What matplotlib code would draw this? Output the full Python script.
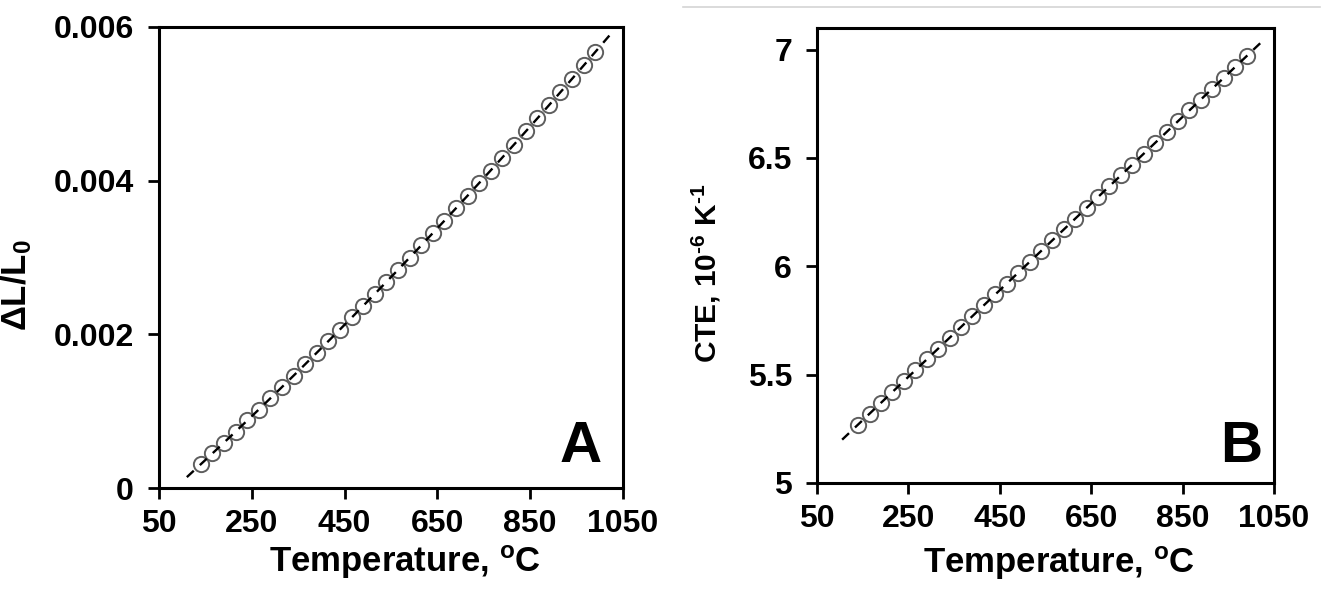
import numpy as np
import matplotlib
matplotlib.use("Agg")
import matplotlib.pyplot as plt
from matplotlib.lines import Line2D

plt.rcParams['font.family'] = ['Liberation Sans', 'DejaVu Sans']
plt.rcParams['font.weight'] = 'bold'
plt.rcParams['mathtext.fontset'] = 'custom'
plt.rcParams['mathtext.rm'] = 'Liberation Sans:bold'
plt.rcParams['mathtext.bf'] = 'Liberation Sans:bold'
plt.rcParams['mathtext.default'] = 'bf'
plt.rcParams['axes.unicode_minus'] = False

# Measured temperatures, deg C
temperature = [140, 165, 190, 215, 240, 265, 290, 315, 340, 365, 390, 415,
               440, 465, 490, 515, 540, 565, 590, 615, 640, 665, 690, 715,
               740, 765, 790, 815, 840, 865, 890, 915, 940, 965, 990]

# Relative elongation dL/L0
elongation = [0.00031, 0.00045, 0.00059, 0.00073, 0.00088, 0.00102, 0.00117,
              0.00131, 0.00146, 0.00161, 0.00176, 0.00191, 0.00206, 0.00222,
              0.00237, 0.00252, 0.00268, 0.00284, 0.00300, 0.00316, 0.00332,
              0.00348, 0.00364, 0.00380, 0.00397, 0.00413, 0.00430, 0.00447,
              0.00464, 0.00481, 0.00498, 0.00515, 0.00532, 0.00550, 0.00567]

# Coefficient of thermal expansion, 10^-6 K^-1
cte = [5.27, 5.32, 5.37, 5.42, 5.47, 5.52, 5.57, 5.62, 5.67, 5.72, 5.77, 5.82,
       5.87, 5.92, 5.97, 6.02, 6.07, 6.12, 6.17, 6.22, 6.27, 6.32, 6.37, 6.42,
       6.47, 6.52, 6.57, 6.62, 6.67, 6.72, 6.77, 6.82, 6.87, 6.92, 6.97]

x_ticks = [50, 250, 450, 650, 850, 1050]
ya_ticks = [0, 0.002, 0.004, 0.006]
ya_labels = ['0', '0.002', '0.004', '0.006']
yb_ticks = [5, 5.5, 6, 6.5, 7]
yb_labels = ['5', '5.5', '6', '6.5', '7']

W, H = 1327, 598
fig = plt.figure(figsize=(W / 100, H / 100), dpi=100)
fig.patch.set_facecolor('white')


def frac_box(x0, y0, x1, y1):
    return [x0 / W, 1 - y1 / H, (x1 - x0) / W, (y1 - y0) / H]


ax_a = fig.add_axes(frac_box(159, 27, 623, 488))
ax_b = fig.add_axes(frac_box(817, 28, 1274, 483))

T = np.array(temperature, dtype=float)


def style(ax, yticks, ylabels, ylim, xlab_y):
    ax.set_xlim(50, 1050)
    ax.set_ylim(*ylim)
    ax.set_xticks(x_ticks)
    ax.set_xticklabels([str(v) for v in x_ticks])
    ax.set_yticks(yticks)
    ax.set_yticklabels(ylabels)
    for s in ax.spines.values():
        s.set_linewidth(2.2)
        s.set_color('black')
    ax.tick_params(direction='out', length=8, width=2, labelsize=23,
                   top=False, right=False)
    ax.tick_params(axis='x', pad=7)
    ax.tick_params(axis='y', pad=10)
    for lab in ax.get_xticklabels() + ax.get_yticklabels():
        lab.set_fontweight('bold')
    ax.set_xlabel(r'Temperature, $^{\mathbf{o}}$C', fontsize=25,
                  fontweight='bold')
    ax.xaxis.set_label_coords(0.53, xlab_y)


def draw(ax, y, deg, t0, t1):
    coef = np.polyfit(T, y, deg)
    tt = np.linspace(t0, t1, 200)
    ax.plot(tt, np.polyval(coef, tt), color='black', lw=1.7,
            dashes=(4, 3.5), zorder=3)
    ax.plot(T, y, linestyle='none', marker='o', markersize=11,
            markerfacecolor='white', markeredgecolor='#5e5e5e',
            markeredgewidth=1.4, zorder=2)


draw(ax_a, np.array(elongation), 2, 110, 1030)
style(ax_a, ya_ticks, ya_labels, (0, 0.006), -0.12)
ax_a.set_ylabel(r'$\Delta$L/L$_{\mathbf{0}}$', fontsize=25, fontweight='bold')
ax_a.yaxis.set_label_coords(-0.27, 0.44)
ax_a.text(0.955, 0.056, 'A', transform=ax_a.transAxes, fontsize=42,
          fontweight='bold', ha='right', va='baseline')

draw(ax_b, np.array(cte), 1, 105, 1025)
style(ax_b, yb_ticks, yb_labels, (5, 7.1), -0.135)
ax_b.set_ylabel('CTE, 10$^{\\mathbf{\u20106}}$ K$^{\\mathbf{\u20101}}$',
                fontsize=21.5, fontweight='bold')
ax_b.yaxis.set_label_coords(-0.205, 0.46)
ax_b.text(0.974, 0.046, 'B', transform=ax_b.transAxes, fontsize=42,
          fontweight='bold', ha='right', va='baseline')

# thin rule along the top edge of the right half
fig.add_artist(Line2D([683 / W, 1320 / W], [1 - 7 / H, 1 - 7 / H],
                      transform=fig.transFigure, color='#d4d4d4', lw=1.2))

fig.savefig('out.png', dpi=100, facecolor='white')
